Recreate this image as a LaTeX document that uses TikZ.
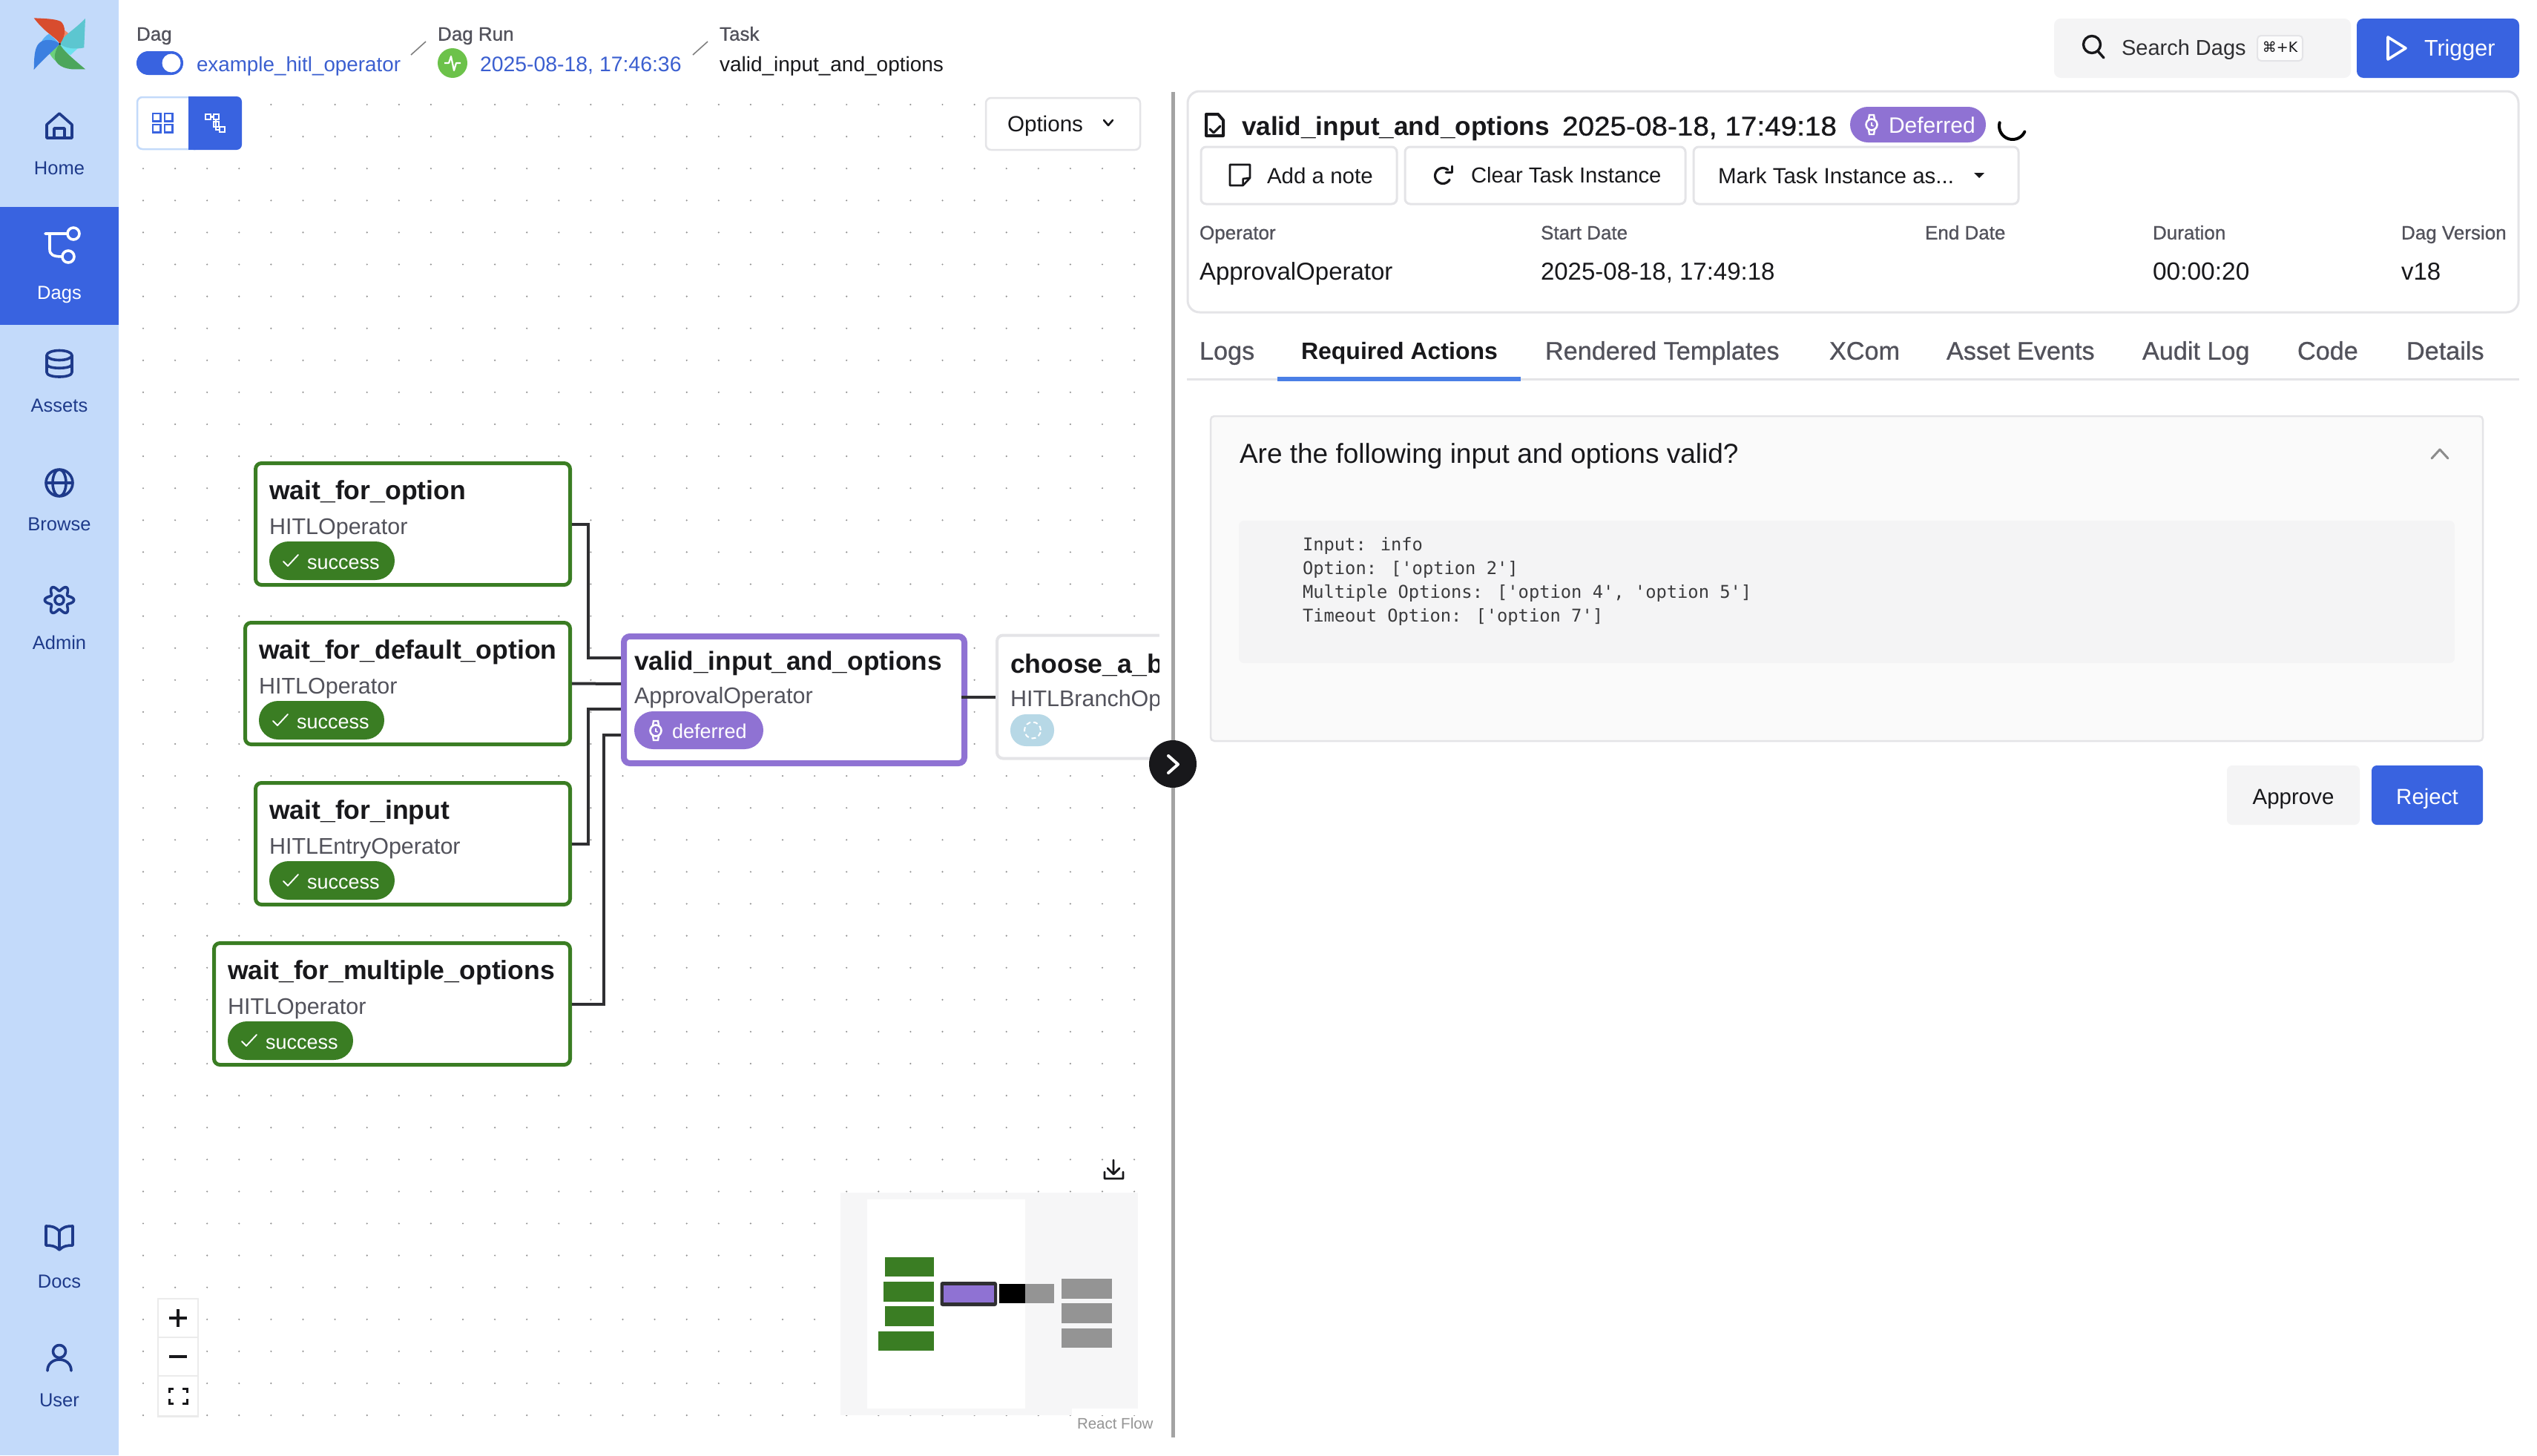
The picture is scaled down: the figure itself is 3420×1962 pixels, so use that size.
\documentclass[tikz,border=0pt]{standalone}
\usepackage{fontspec}
\setmainfont{Liberation Sans}
\newfontfamily\med[FakeBold=0.8]{Liberation Sans}
\newfontfamily\medw[FakeBold=0.9,FakeStretch=1.06]{Liberation Sans}
\newfontfamily\djm{DejaVu Sans Mono}
\newfontfamily\djs{DejaVu Sans}
\definecolor{blu}{HTML}{3963E0}
\definecolor{side}{HTML}{C3DAFA}
\definecolor{navy}{HTML}{1E3A8A}
\definecolor{linkc}{HTML}{3B5FD0}
\definecolor{ink}{HTML}{18181B}
\definecolor{grey}{HTML}{52525B}
\definecolor{bord}{HTML}{E4E4E7}
\definecolor{soft}{HTML}{F4F4F5}
\definecolor{grn}{HTML}{3A7D23}
\definecolor{pur}{HTML}{8F72D3}
\definecolor{mini}{HTML}{949494}
\definecolor{lgteal}{HTML}{5CC6D0}
\definecolor{lgcyan}{HTML}{6DE2EE}
\definecolor{lggreen}{HTML}{4CA65C}
\definecolor{lggreenl}{HTML}{6CD07C}
\definecolor{lgblue}{HTML}{3B7FE0}
\definecolor{lgbluel}{HTML}{5AB0F5}
\definecolor{lgred}{HTML}{D84C2E}
\definecolor{lgredl}{HTML}{F08A6C}
\definecolor{hlthc}{HTML}{6CC24A}
\definecolor{queued}{HTML}{B7D8E6}
\definecolor{tabact}{HTML}{4A7FE6}
\tikzset{
  rct/.style={rectangle,inner sep=0pt,outer sep=0pt},
  fs/.style={font=\fontsize{#1}{#1}\selectfont,text height=\dimexpr #1pt*90/100\relax,text depth=\dimexpr #1pt*15/100\relax},
  tx/.style={rectangle,inner sep=0pt,outer sep=0pt,anchor=west,text=ink},
  cx/.style={rectangle,inner sep=0pt,outer sep=0pt,anchor=center,text=ink},
  nav/.style={cx,text=navy,fs=25.5},
  taskbox/.style={rct,draw=grn,line width=5pt,fill=white,rounded corners=8pt,anchor=north west,minimum height=164pt},
  ttl/.style={tx,fs=35.6,font=\fontsize{35.6}{36}\selectfont\bfseries},
  subt/.style={tx,fs=30.5,text=grey},
  badge/.style={rct,fill=grn,rounded corners=25.9pt},
  btxt/.style={tx,fs=27,text=white},
  edge/.style={draw=ink!90,line width=4pt},
  ico/.style={draw=navy,line width=3.6pt,line cap=round,line join=round},
  icw/.style={draw=white,line width=3.6pt,line cap=round,line join=round},
  ick/.style={draw=ink,line width=3.4pt,line cap=round,line join=round},
  lab/.style={tx,fs=26,text=grey,font=\fontsize{26}{26}\selectfont\med},
  tab/.style={tx,fs=34.2,text=grey,font=\fontsize{34.2}{34}\selectfont\med},
  btn/.style={rct,draw=bord,line width=3pt,fill=white,rounded corners=7pt},
  code/.style={tx,fs=23.75,text=ink!85,font=\fontsize{23.75}{24}\selectfont\djm},
}
\newcommand\rct[6][]{\node[rct,#1,minimum width={((#5)-(#3))*1pt},minimum height={((#6)-(#4))*1pt}] (#2) at ({((#3)+(#5))/2},{((#4)+(#6))/2}) {};}
\newcommand\chk[2]{\draw[white,line width=1.9pt,line cap=round,line join=round] ({#1-10},{#2+1})--({#1-4},{#2+7})--({#1+10},{#2-8});}
\newcommand\watch[2]{%
  \draw[white,line width=2.6pt] (#1,#2) circle (7.5pt);
  \draw[white,line width=2.4pt] (#1-4,#2-7)--(#1-3,#2-13)--(#1+3,#2-13)--(#1+4,#2-7);
  \draw[white,line width=2.4pt] (#1-4,#2+7)--(#1-3,#2+13)--(#1+3,#2+13)--(#1+4,#2+7);
  \draw[white,line width=1.6pt] (#1,#2-3)--(#1,#2+1)--(#1+2.5,#2+2);}
\newcommand\tasknode[5]{% name x-left y-top title sub
  \node[taskbox,minimum width={(768.5-#2-1.5)*1pt}] (#1) at (#2+1.5,#3+2.5) {};
  \node[ttl] (#1t) at (#2+20,#3+38) {#4};
  \node[subt] (#1s) at (#2+20,#3+87) {#5};
  \rct[badge]{#1b}{#2+20}{#3+108}{#2+189}{#3+160}
  \chk{#2+49}{#3+134}
  \node[btxt] (#1c) at (#2+71,#3+135) {success};}
\begin{document}
\begin{tikzpicture}[x=1pt,y=-1pt]
\useasboundingbox (0,0) rectangle (3420,1962);
\rct[fill=white]{page}{0}{0}{3420}{1962}
% canvas dots
\foreach \i in {0,...,31}\foreach \j in {0,...,41}
  \fill[black!42] ({193+\i*43.1},{141+\j*43.1}) circle (1.2pt);
% sidebar
\rct[fill=side]{sb}{0}{0}{160}{1962}
\rct[fill=blu]{act}{0}{279}{160}{438}
% logo
\fill[lgredl] (80.7,59.3) .. controls (84,52) and (86,46) .. (86,40) .. controls (90,43) and (94,46) .. (96,49.3) .. controls (90,50) and (84,55) .. (80.7,59.3) -- cycle;
\fill[lgcyan] (80.7,59.3) .. controls (88,64) and (96,66) .. (105,65) -- (95,74.3) .. controls (90,72) and (84,65) .. (80.7,59.3) -- cycle;
\fill[lggreenl] (80.7,59.3) .. controls (76,62) and (70,65) .. (66,70) .. controls (68,75) and (72,80) .. (76,83) -- cycle;
\fill[lgbluel] (80.7,59.3) .. controls (76,55) and (72,50) .. (66,45.7) .. controls (62,48) and (58,52) .. (56,56) -- cycle;
\fill[lgteal] (80.7,59.3) .. controls (84,48) and (96,44) .. (115,25) -- (113.3,64.3) .. controls (100,67) and (88,65) .. (80.7,59.3) -- cycle;
\fill[lggreen] (80.7,59.3) .. controls (85,68) and (97,78) .. (115,93.3) -- (96.7,93.3) .. controls (82,92) and (70,84) .. (75,70) .. controls (76,66) and (78,62) .. (80.7,59.3) -- cycle;
\fill[lgblue] (80.7,59.3) .. controls (72,68) and (58,80) .. (45.7,94) .. controls (46,80) and (46,66) .. (52,59) .. controls (58,52) and (72,52) .. (80.7,59.3) -- cycle;
\fill[lgred] (80.7,59.3) .. controls (76,50) and (62,46) .. (45.7,24.3) .. controls (58,25) and (74,25) .. (82,29) .. controls (88,34) and (90,47) .. (80.7,59.3) -- cycle;
\fill[ink] (80.7,59.3) circle (1.3pt);
% nav icons and labels
\draw[ico] (63,168)--(80,153)--(97,168)--(97,186)--(63,186)--cycle (73,186)--(73,173)--(87,173)--(87,186);
\node[nav] (nhome) at (80,226) {Home};
\draw[icw] (61,315)--(91,315) (67,315)--(67,336) .. controls (67,343) and (71,346) .. (84,346);
\draw[icw] (99,315) circle (8pt) (92,346) circle (8pt);
\node[nav,text=white] (ndags) at (80,394) {Dags};
\draw[ico] (80,479) ellipse (17pt and 6.5pt);
\draw[ico] (63,479)--(63,502) .. controls (63,510) and (97,510) .. (97,502) -- (97,479) (63,491) .. controls (63,498) and (97,498) .. (97,491);
\node[nav] (nassets) at (80,546) {Assets};
\draw[ico] (80,651) circle (18pt) (80,651) ellipse (9pt and 18pt) (62,651)--(98,651);
\node[nav] (nbrowse) at (80,706) {Browse};
\draw[ico] plot[domain=0:360,samples=97,smooth] ({80+(16+3.6*cos(6*\x))*cos(\x)},{809+(16+3.6*cos(6*\x))*sin(\x)}) -- cycle;
\draw[ico] (80,809) circle (6pt);
\node[nav] (nadmin) at (80,866) {Admin};
\draw[ico] (80,1660) .. controls (75,1654) and (70,1653) .. (62,1653) -- (62,1679) .. controls (70,1679) and (75,1680) .. (80,1685) .. controls (85,1680) and (90,1679) .. (98,1679) -- (98,1653) .. controls (90,1653) and (85,1654) .. (80,1660) -- (80,1685);
\node[nav] (ndocs) at (80,1727) {Docs};
\draw[ico] (80,1822) circle (8.5pt);
\draw[ico] (64,1848) .. controls (64,1828) and (96,1828) .. (96,1848);
\node[nav] (nuser) at (80,1887) {User};
% breadcrumbs
\node[lab] (bdag) at (184,45) {Dag};
\rct[fill=blu,rounded corners=15.9pt]{tog}{184}{69}{247}{101}
\fill[white] (231,85) circle (12.5pt);
\node[tx,fs=27.8,text=linkc] (bdagv) at (265,86) {example\_hitl\_operator};
\draw[black!50,line width=1.6pt] (554,74)--(574,56);
\node[lab] (brun) at (590,45) {Dag Run};
\node[circle,fill=hlthc,minimum size=40pt,inner sep=0pt,outer sep=0pt] (hlth) at (610,85) {};
\draw[white,line width=2.2pt,line join=round] (599,85)--(605,85)--(608,76)--(612,95)--(615,85)--(621,85);
\node[tx,fs=28.4,text=linkc] (brunv) at (647,86) {2025-08-18, 17:46:36};
\draw[black!50,line width=1.6pt] (934,74)--(954,56);
\node[lab] (btask) at (970,45) {Task};
\node[tx,fs=28] (btaskv) at (970,86) {valid\_input\_and\_options};
% view toggle
\rct[fill=white,draw=side,line width=2.5pt,rounded corners=7pt]{vg}{185}{131}{270}{201}
\rct[fill=blu,rounded corners=7pt]{vb}{254}{130}{326}{202}
\rct[fill=blu]{vb2}{254}{130}{268}{202}
\foreach \a/\b in {206/153,222/153,206/168,222/168}
  \draw[blu,line width=2.4pt] (\a,\b) rectangle ++(10.5,10.5);
\draw[white,line width=2.2pt] (277,154) rectangle ++(7,7) (288,154) rectangle ++(7,7) (288,164) rectangle ++(7,7) (296,171) rectangle ++(7,7) (284,157.5)--(288,157.5) (291,161)--(291,175)--(296,175);
\node[rct,draw=bord,line width=2.5pt,fill=white,rounded corners=7pt,minimum width=208pt,minimum height=70pt] (opt) at (1433,167) {};
\node[tx,fs=29.6] (optt) at (1358,166) {Options};
\draw[ick,line width=2.6pt] (1488,162)--(1494,169)--(1500,162);
% tasks
\tasknode{wopt}{343}{622}{wait\_for\_option}{HITLOperator}
\tasknode{wdef}{329}{837}{wait\_for\_default\_option}{HITLOperator}
\tasknode{winp}{343}{1053}{wait\_for\_input}{HITLEntryOperator}
\tasknode{wmul}{287}{1269}{wait\_for\_multiple\_options}{HITLOperator}
\node[rct,draw=pur,line width=8pt,fill=white,rounded corners=8pt,minimum width=459pt,minimum height=171pt] (vld) at (1070.5,943.5) {};
\node[ttl,fs=35.2,font=\fontsize{35.2}{36}\selectfont\bfseries] (vldt) at (855,890) {valid\_input\_and\_options};
\node[subt] (vlds) at (855,937.5) {ApprovalOperator};
\rct[fill=pur,rounded corners=25.4pt]{vldb}{855}{959}{1029}{1010}
\watch{884}{985}
\node[btxt] (vldc) at (906,985) {deferred};
\node[rct,draw=bord,line width=4pt,fill=white,rounded corners=8pt,minimum width=300pt,minimum height=166pt] (chs) at (1494,939.5) {};
\node[ttl] (chst) at (1362,894) {choose\_a\_b};
\node[subt] (chss) at (1362,941) {HITLBranchOp};
\rct[fill=queued,rounded corners=21pt]{chsb}{1362}{963}{1421}{1006}
\draw[white,line width=2pt,dash pattern=on 6pt off 4pt] (1392,984.5) circle (11pt);
\rct[fill=white]{clipc}{1563}{840}{1660}{1040}
% connectors
\coordinate (v1) at (841,887);
\coordinate (v2) at (841,922);
\coordinate (v3) at (841,956);
\coordinate (v4) at (841,991);
\coordinate (vo) at (1296,939.5);
\draw[edge,shorten <=2.5pt,shorten >=4pt] (wopt.east) -- ++(24.5,0) |- (v1);
\draw[edge,shorten <=2.5pt,shorten >=4pt] (wdef.east) -- (v2);
\draw[edge,shorten <=2.5pt,shorten >=4pt] (winp.east) -- ++(24.5,0) |- (v3);
\draw[edge,shorten <=2.5pt,shorten >=4pt] (wmul.east) -- ++(45.5,0) |- (v4);
\draw[edge,shorten >=2pt] (vo) -- (chs.west);
% divider and collapse button
\draw[black!36,line width=5pt] (1581,124)--(1581,1938);
\node[circle,fill=ink,minimum size=64pt,inner sep=0pt,outer sep=0pt] (col) at (1581,1030) {};
\draw[white,line width=4pt,line cap=round,line join=round] (1575,1019)--(1588,1030.5)--(1575,1042);
% minimap
\draw[ick,line width=2.8pt] (1501,1564)--(1501,1582) (1493,1575)--(1501,1583)--(1509,1575) (1489,1580)--(1489,1589)--(1514,1589)--(1514,1580);
\rct[fill=soft!80!white]{mm}{1133}{1608}{1534}{1908}
\rct[fill=white]{mmv}{1168.5}{1617}{1382}{1899}
\rct[fill=grn]{mg1}{1192.5}{1695}{1259}{1721}
\rct[fill=grn]{mg2}{1191}{1728}{1259}{1755}
\rct[fill=grn]{mg3}{1192.5}{1761}{1259}{1788}
\rct[fill=grn]{mg4}{1184}{1795}{1259}{1821}
\rct[fill=ink!90,rounded corners=3pt]{mv}{1267.5}{1728}{1344}{1761}
\rct[fill=pur]{mvi}{1272}{1733}{1340}{1756}
\rct[fill=black]{mc1}{1347}{1731}{1382}{1757}
\rct[fill=mini]{mc2}{1382}{1731}{1421}{1757}
\rct[fill=mini]{mr1}{1431}{1724}{1499}{1751}
\rct[fill=mini]{mr2}{1431}{1757}{1499}{1784}
\rct[fill=mini]{mr3}{1431}{1791}{1499}{1817}
\rct[fill=white]{attr}{1445}{1899}{1534}{1908}
\node[tx,fs=20.5,text=black!42] (rf) at (1452,1919) {React Flow};
% zoom controls
\rct[fill=black!8]{zs}{212}{1750}{268}{1911}
\rct[fill=white]{z1}{214}{1752}{266}{1802}
\rct[fill=white]{z2}{214}{1804}{266}{1854}
\rct[fill=white]{z3}{214}{1856}{266}{1908}
\draw[ink,line width=3.4pt] (228,1777)--(252,1777) (240,1765)--(240,1789) (228,1829)--(252,1829);
\draw[ink,line width=3pt] (228,1878)--(228,1872)--(234,1872) (246,1872)--(252,1872)--(252,1878) (252,1886)--(252,1892)--(246,1892) (234,1892)--(228,1892)--(228,1886);
% top bar right
\rct[fill=soft,rounded corners=9pt]{srch}{2769}{25}{3169}{105}
\draw[ick] (2820,60) circle (11.5pt) (2828,69)--(2836,78);
\node[tx,fs=29,text=ink!90] (srcht) at (2860,64) {Search Dags};
\rct[fill=white!70!soft,draw=bord,line width=2pt,rounded corners=5pt]{kbd}{3043}{48}{3104}{82}
\node[cx,fs=19,font=\fontsize{19}{19}\selectfont\djs] (kbdt) at (3073.5,63) {⌘+K};
\rct[fill=blu,rounded corners=9pt]{trg}{3177}{25}{3396}{105}
\draw[white,line width=3.6pt,line join=round] (3219,50)--(3243,65)--(3219,80)--cycle;
\node[tx,fs=30.5,text=white] (trgt) at (3268,64) {Trigger};
% task card
\rct[btn,rounded corners=16pt]{card}{1601}{123}{3395}{421}
\draw[ick,line width=4pt] (1626,154)--(1642,154)--(1649,162)--(1649,183)--(1626,183)--cycle;
\draw[ick,line width=3pt] (1631,174)--(1636,179)--(1645,170);
\node[tx,fs=35.2,font=\fontsize{35.2}{36}\selectfont\bfseries] (cardt) at (1674,169) {valid\_input\_and\_options};
\node[tx,fs=36.5,font=\fontsize{36.5}{36}\selectfont\medw] (cardd) at (2106,169) {2025-08-18, 17:49:18};
\rct[fill=pur,rounded corners=23.9pt]{dfr}{2494}{144}{2677}{192}
\watch{2523}{168}
\node[tx,fs=30,text=white] (dfrt) at (2546,168) {Deferred};
\draw[black,line width=4pt,line cap=round] plot[domain=25:195,samples=20,smooth] ({2713+18*cos(\x)},{170+18*sin(\x)});
\rct[btn]{badd}{1619}{198}{1883}{275}
\draw[ick,line width=2.6pt] (1658,222)--(1685,222)--(1685,240)--(1675.6,250)--(1658,250)--cycle (1685,240)--(1675.6,241)--(1675.6,250);
\node[tx,fs=29.5] (baddt) at (1708,236) {Add a note};
\rct[btn]{bclr}{1894}{198}{2272}{275}
\draw[ick,line width=3.2pt] plot[domain=30:310,samples=24,smooth] ({1945+10.5*cos(\x)},{237+10.5*sin(\x)});
\draw[ick,line width=3pt] (1957,224)--(1957,232)--(1949,232);
\node[tx,fs=29.2] (bclrt) at (1983,236) {Clear Task Instance};
\rct[btn]{bmrk}{2283}{198}{2721}{275}
\node[tx,fs=29.5] (bmrkt) at (2316,236) {Mark Task Instance as...};
\fill[ink] (2661,233)--(2675,233)--(2668,240)--cycle;
\node[lab] (l1) at (1617,313) {Operator};
\node[lab] (l2) at (2077,313) {Start Date};
\node[lab] (l3) at (2595,313) {End Date};
\node[lab] (l4) at (2902,313) {Duration};
\node[lab] (l5) at (3237,313) {Dag Version};
\node[tx,fs=33] (v1t) at (1617,365) {ApprovalOperator};
\node[tx,fs=33] (v2t) at (2077,365) {2025-08-18, 17:49:18};
\node[tx,fs=33.5] (v4t) at (2902,365) {00:00:20};
\node[tx,fs=33] (v5t) at (3237,365) {v18};
% tabs
\node[tab] (t1) at (1617,472) {Logs};
\node[tab,text=ink,font=\fontsize{32}{34}\selectfont\bfseries] (t2) at (1754,472) {Required Actions};
\node[tab] (t3) at (2083,472) {Rendered Templates};
\node[tab] (t4) at (2466,472) {XCom};
\node[tab] (t5) at (2624,472) {Asset Events};
\node[tab] (t6) at (2888,472) {Audit Log};
\node[tab] (t7) at (3097,472) {Code};
\node[tab] (t8) at (3244,472) {Details};
\rct[fill=bord]{tline}{1600}{510}{3396}{513}
\rct[fill=tabact]{tact}{1722}{508}{2050}{514}
% action card
\rct[fill=black!2,draw=bord,line width=2.5pt,rounded corners=5pt]{acard}{1632}{561}{3347}{999}
\node[tx,fs=37] (q) at (1671,611) {Are the following input and options valid?};
\draw[black!45,line width=3pt,line cap=round,line join=round] (3278,618)--(3289,606)--(3300,618);
\rct[fill=soft,rounded corners=7pt]{cbg}{1670}{702}{3309}{894}
\node[code] (c1) at (1756,734) {Input: info};
\node[code] (c2) at (1756,766) {Option: ['option 2']};
\node[code] (c3) at (1756,798) {Multiple Options: ['option 4', 'option 5']};
\node[code] (c4) at (1756,830) {Timeout Option: ['option 7']};
\rct[fill=soft,rounded corners=7pt]{apr}{3002}{1032}{3181}{1112}
\node[cx,fs=29.5] (aprt) at (3091.5,1073) {Approve};
\rct[fill=blu,rounded corners=7pt]{rej}{3197}{1032}{3347}{1112}
\node[cx,fs=29.5,text=white] (rejt) at (3272,1073) {Reject};
\end{tikzpicture}
\end{document}
